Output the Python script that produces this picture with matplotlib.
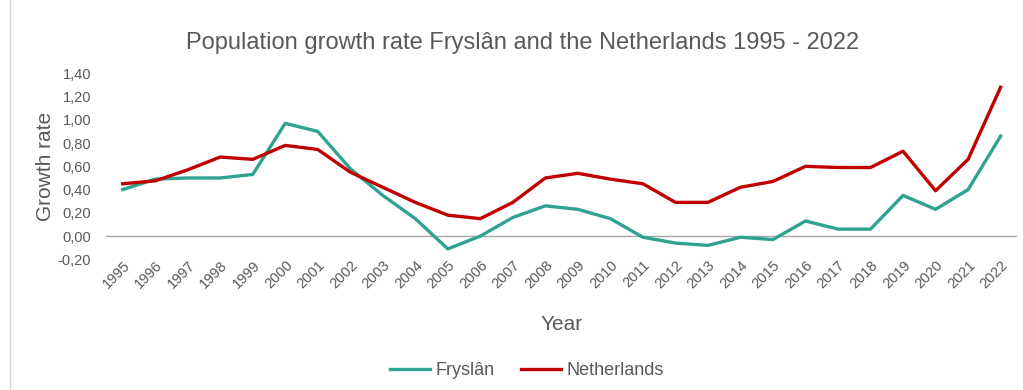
import matplotlib
matplotlib.use("Agg")
import matplotlib.pyplot as plt
from matplotlib.patches import Rectangle
from matplotlib.ticker import FuncFormatter

plt.rcParams['font.family'] = ['Liberation Sans', 'DejaVu Sans']

years = [str(y) for y in range(1995, 2023)]
fryslan = [0.40, 0.49, 0.50, 0.50, 0.53, 0.97, 0.90, 0.58, 0.35, 0.15,
           -0.11, 0.00, 0.16, 0.26, 0.23, 0.15, -0.01, -0.06, -0.08, -0.01,
           -0.03, 0.13, 0.06, 0.06, 0.35, 0.23, 0.40, 0.86]
netherlands = [0.45, 0.475, 0.57, 0.68, 0.66, 0.78, 0.745, 0.55, 0.42, 0.29,
               0.18, 0.15, 0.29, 0.50, 0.54, 0.49, 0.45, 0.29, 0.29, 0.42,
               0.47, 0.60, 0.59, 0.59, 0.73, 0.39, 0.66, 1.28]
yticks = [-0.2, 0.0, 0.2, 0.4, 0.6, 0.8, 1.0, 1.2, 1.4]

grey = '#595959'
fig = plt.figure(figsize=(10.23, 3.90), dpi=100)
fig.patches.append(Rectangle((0.010, -0.01), 0.995, 1.02, transform=fig.transFigure,
                             fill=False, edgecolor='#d9d9d9', linewidth=1))
ax = fig.add_axes([0.104, 0.335, 0.890, 0.477])
x = list(range(len(years)))
ax.plot(x, fryslan, color='#2fa38f', linewidth=2.4, label='Fryslân', solid_joinstyle='round')
ax.plot(x, netherlands, color='#c00000', linewidth=2.4, label='Netherlands', solid_joinstyle='round')
ax.axhline(0, color='#a6a6a6', linewidth=1, zorder=0)
ax.set_xlim(-0.5, len(years) - 0.5)
ax.set_ylim(-0.2, 1.4)
ax.set_yticks(yticks)
ax.yaxis.set_major_formatter(FuncFormatter(lambda v, p: f"{v:.2f}".replace('.', ',').replace('-0,00', '0,00')))
ax.set_xticks(x)
ax.set_xticklabels(years, rotation=45, ha='right', rotation_mode='anchor')
ax.tick_params(axis='both', length=0, labelcolor=grey, labelsize=10.5)
ax.tick_params(axis='x', pad=-1)
ax.tick_params(axis='y', pad=11)
for s in ax.spines.values():
    s.set_visible(False)
ax.set_ylabel('Growth rate', fontsize=15, color=grey, labelpad=2)
ax.set_xlabel('Year', fontsize=15, color=grey, labelpad=17)
fig.text(0.511, 0.89, 'Population growth rate Fryslân and the Netherlands 1995 - 2022',
         ha='center', va='center', fontsize=17, color=grey)
leg = fig.legend(loc='center', bbox_to_anchor=(0.515, 0.05), ncol=2, frameon=False,
                 fontsize=13, handlelength=2.2, columnspacing=1.5, handletextpad=0.3)
for t in leg.get_texts():
    t.set_color(grey)
fig.savefig('out.png', dpi=100)
